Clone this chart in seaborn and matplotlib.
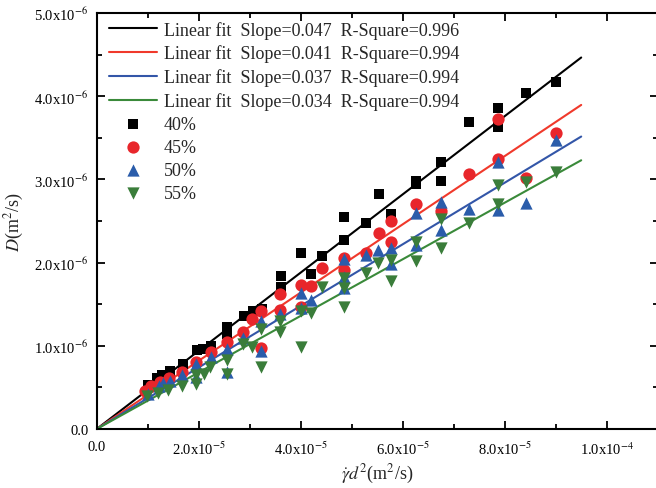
import numpy as np
import pandas as pd
import matplotlib
matplotlib.use("Agg")
import matplotlib.pyplot as plt
import seaborn as sns
from matplotlib.ticker import MultipleLocator, FuncFormatter

# ---------------- data (x in 1e-5 m^2/s, y in 1e-6 m^2/s) ----------------
series_names = ["40%", "45%", "50%", "55%"]
fit_slopes = [0.047, 0.041, 0.037, 0.034]
fit_r2 = [0.996, 0.994, 0.994, 0.994]
fit_xmax = 9.5  # end of fitted line (1e-5)

x40 = [1.0, 1.18, 1.29, 1.44, 1.70, 1.96, 2.09, 2.25, 2.55, 2.55, 2.89, 3.07, 3.25,
       3.61, 3.61, 4.0, 4.2, 4.42, 4.85, 4.85, 5.29, 5.54, 5.77, 6.26, 6.26, 6.76,
       6.76, 7.3, 7.86, 7.86, 8.42, 9.0]
y40 = [0.53, 0.61, 0.65, 0.70, 0.78, 0.95, 0.96, 1.0, 1.22, 1.14, 1.355, 1.42, 1.44,
       1.84, 1.71, 2.115, 1.86, 2.075, 2.545, 2.27, 2.476, 2.82, 2.58, 2.98, 2.95, 3.21,
       2.98, 3.686, 3.854, 3.626, 4.038, 4.17]

x45 = [0.95, 1.07, 1.24, 1.42, 1.68, 1.95, 2.24, 2.56, 2.87, 3.05, 3.22, 3.22, 3.6,
       3.6, 4.0, 4.0, 4.2, 4.42, 4.85, 4.85, 5.29, 5.54, 5.77, 5.77, 6.26, 6.76, 7.3,
       7.86, 7.86, 8.42, 9.0]
y45 = [0.46, 0.52, 0.56, 0.61, 0.69, 0.80, 0.93, 1.04, 1.17, 1.32, 1.42, 0.97, 1.62,
       1.43, 1.73, 1.47, 1.72, 1.94, 1.91, 2.05, 2.12, 2.36, 2.5, 2.25, 2.70, 2.62, 3.06,
       3.73, 3.25, 3.02, 3.56]

x50 = [1.0, 1.22, 1.3, 1.44, 1.67, 1.95, 1.95, 2.24, 2.56, 2.56, 2.87, 3.22, 3.22,
       3.6, 4.0, 4.0, 4.2, 4.85, 4.85, 4.85, 5.29, 5.52, 5.77, 5.77, 6.26, 6.26, 6.76,
       6.76, 7.3, 7.86, 7.86, 8.42, 9.0]
y50 = [0.42, 0.52, 0.55, 0.58, 0.65, 0.78, 0.62, 0.86, 0.96, 0.68, 1.09, 1.30, 0.94,
       1.38, 1.64, 1.46, 1.55, 2.04, 1.83, 1.70, 2.09, 2.15, 2.18, 1.98, 2.60, 2.21, 2.73,
       2.39, 2.64, 3.21, 2.63, 2.72, 3.47]

x55 = [0.98, 1.21, 1.40, 1.68, 1.95, 1.95, 2.1, 2.22, 2.56, 2.56, 2.87, 3.05, 3.22,
       3.22, 3.6, 3.6, 4.0, 4.0, 4.2, 4.42, 4.85, 4.85, 4.85, 5.29, 5.52, 5.77, 5.77,
       6.26, 6.26, 6.76, 6.76, 7.3, 7.86, 7.86, 8.42, 9.0]
y55 = [0.40, 0.43, 0.47, 0.52, 0.65, 0.54, 0.66, 0.74, 0.83, 0.66, 1.02, 0.98, 1.20,
       0.75, 1.30, 1.16, 1.42, 0.98, 1.39, 1.71, 1.81, 1.69, 1.47, 1.88, 2.0, 2.03, 1.78,
       2.25, 2.02, 2.52, 2.18, 2.47, 2.93, 2.71, 2.97, 3.085]

xs = [x40, x45, x50, x55]
ys = [y40, y45, y50, y55]

# ---------------- styling ----------------
marker_colors = ["#000000", "#e8262b", "#2a5caa", "#3a7d3a"]
line_colors = ["#000000", "#f0392b", "#3356a8", "#3a8a3a"]
markers = ["s", "o", "^", "v"]
marker_sizes = [62, 78, 78, 78]

sns.set_theme(style="ticks")
plt.rcParams["font.family"] = ["Liberation Serif", "DejaVu Serif"]
plt.rcParams["mathtext.fontset"] = "stix"

fig = plt.figure(figsize=(6.56, 4.89), dpi=100)
ax = fig.add_axes([96.7 / 656, 1 - 430 / 489, (657.7 - 96.7) / 656, 416 / 489])

# fitted lines
for name, slope, r2, col in zip(series_names, fit_slopes, fit_r2, line_colors):
    xl = np.array([0.0, fit_xmax]) * 1e-5
    df_line = pd.DataFrame({"x": xl, "y": slope * xl})
    sns.lineplot(data=df_line, x="x", y="y", ax=ax, color=col, lw=1.5,
                 label=f"Linear fit  Slope={slope:.3f}  R-Square={r2:.3f}", zorder=2)

# scatter points
for name, x, y, col, m, s in zip(series_names, xs, ys, marker_colors, markers, marker_sizes):
    df_pts = pd.DataFrame({"x": np.array(x) * 1e-5, "y": np.array(y) * 1e-6})
    sns.scatterplot(data=df_pts, x="x", y="y", ax=ax, color=col, marker=m, s=s,
                    linewidth=0, label=name, zorder=3)

ax.set_xlim(0, 1.1e-4)
ax.set_ylim(0, 5e-6)

def sci_fmt(v, pos):
    if abs(v) < 1e-20:
        return "0.0"
    e = int(np.floor(np.log10(abs(v)) + 1e-9))
    m = v / 10 ** e
    return f"{m:.1f}x10$^{{{e}}}$"

ax.xaxis.set_major_locator(MultipleLocator(2e-5))
ax.xaxis.set_minor_locator(MultipleLocator(1e-5))
ax.yaxis.set_major_locator(MultipleLocator(1e-6))
ax.yaxis.set_minor_locator(MultipleLocator(0.5e-6))
ax.xaxis.set_major_formatter(FuncFormatter(sci_fmt))
ax.yaxis.set_major_formatter(FuncFormatter(sci_fmt))

ax.tick_params(which="both", direction="in", top=True, right=True, width=1.3,
               labelsize=10.5, colors="black")
ax.tick_params(which="major", length=6)
ax.tick_params(axis="x", which="major", pad=8)
ax.tick_params(axis="y", which="major", pad=6)
ax.tick_params(which="minor", length=3.5)
for sp in ax.spines.values():
    sp.set_linewidth(1.5)
    sp.set_color("black")

ax.set_xlabel(r"$\dot{\gamma}d^2$(m$^2$/s)", fontsize=13, labelpad=3)
ax.set_ylabel(r"$D$(m$^2$/s)", fontsize=13, labelpad=6)

handles, labels = ax.get_legend_handles_labels()
leg = ax.legend(handles, labels, loc="upper left", bbox_to_anchor=(0.015, 0.99),
                frameon=False, fontsize=13, handlelength=2.7, handletextpad=0.35,
                labelspacing=0.33, borderaxespad=0, borderpad=0.2)

fig.savefig("out.png", dpi=100)
